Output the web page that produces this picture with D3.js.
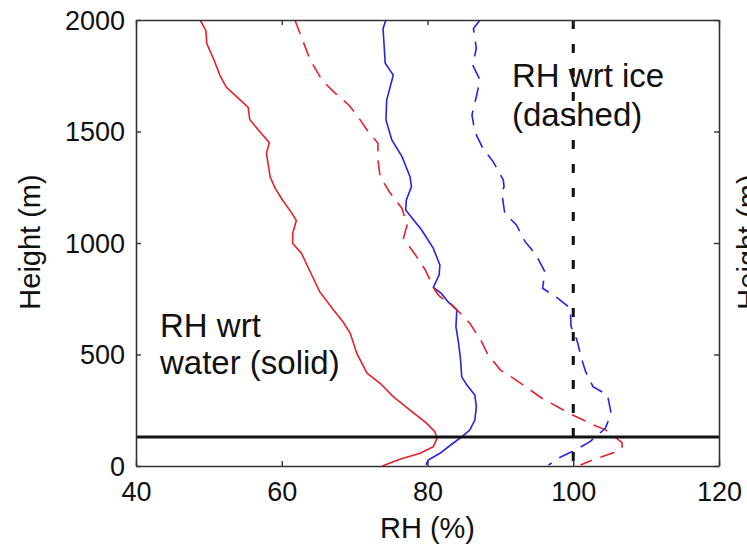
<!DOCTYPE html>
<html><head><meta charset="utf-8">
<script src="https://cdn.jsdelivr.net/npm/d3@7/dist/d3.min.js"></script>
<style>
html,body{margin:0;padding:0;background:#fff;}
svg{display:block;font-family:"Liberation Sans",Arial,sans-serif;}
</style></head>
<body>
<svg id="chart" width="747" height="547"></svg>
<script>
// ---- data ----
const xTicks = [40, 60, 80, 100, 120];
const yTicks = [0, 500, 1000, 1500, 2000];

// Profile 1 (red), RH with respect to water (solid)
const redWaterH  = [2000,1952,1895,1813,1753,1698,1656,1608,1554,1507,1450,1402,1297,1245,1193,1133,1100,1043,998,954,871,782,700,647,595,505,416,371,311,251,191,154,124,87,57,30,0];
const redWaterRH = [48.8,49.6,49.7,50.8,51.5,52.4,53.8,55.4,55.6,56.8,58.3,57.9,58.4,59.1,60.1,61.4,62.0,61.5,61.5,62.7,63.9,65.2,67.1,68.4,69.4,70.3,71.7,73.5,75.3,77.6,79.9,81.0,81.3,80.8,79.0,76.2,73.8];

// Profile 2 (blue), RH with respect to water (solid)
const blueWaterH  = [2000,1962,1806,1753,1641,1552,1462,1387,1297,1253,1193,1148,1058,976,901,857,801,774,737,700,685,625,565,490,400,363,318,266,206,161,131,102,57,27,5];
const blueWaterRH = [74.3,73.9,74.2,75.3,74.4,74.3,75.1,76.5,77.6,77.8,77.1,77.0,79.2,80.8,81.7,81.6,80.8,81.9,82.8,84.0,84.0,83.9,84.2,84.5,84.7,85.4,86.5,86.7,86.5,85.8,84.7,83.5,81.7,80.1,79.8];

// Profile 1 (red), RH with respect to ice (dashed)
const redIceH  = [2000,1821,1731,1679,1619,1574,1507,1447,1372,1297,1223,1155,1081,1021,939,879,789,759,730,685,640,565,505,430,393,348,304,259,229,187,161,105,80,60,30,4];
const redIceRH = [61.8,63.9,65.5,67.1,69.2,70.3,71.7,73.2,73.2,73.5,74.9,76.5,77.2,76.7,78.5,79.7,81.0,81.7,83.1,84.5,85.8,87.3,88.2,90.0,91.8,93.8,95.7,98.2,99.9,102.6,104.5,106.7,106.7,105.6,102.9,101.0];

// Profile 2 (blue), RH with respect to ice (dashed)
const blueIceH  = [2000,1962,1873,1798,1731,1656,1574,1499,1424,1365,1283,1253,1223,1133,1081,1006,946,871,797,752,707,625,565,475,423,356,318,236,169,109,72,34,4];
const blueIceRH = [87.2,86.3,86.7,86.2,87.2,86.7,86.1,86.5,87.6,89.0,90.4,90.5,90.2,90.6,92.2,93.4,94.9,96.1,95.8,97.9,99.6,99.7,100.5,101.2,101.7,102.7,104.7,105.2,104.4,102.3,100.3,97.9,96.6];

const boundaryHeight = 130;   // horizontal line (m)
const saturationRH = 100;     // vertical dashed line (%)

const xLabel = "RH (%)";
const yLabel = "Height (m)";

// ---- layout ----
const svg = d3.select("#chart");
const L = 136, R = 719, T = 20, B = 466;
const x = d3.scaleLinear().domain([40, 120]).range([L, R]);
const y = d3.scaleLinear().domain([0, 2000]).range([B, T]);

const red = "#e8202c", blue = "#2424e6";
const line = d3.line().x(d => x(d[1])).y(d => y(d[0]));
const zip = (h, v) => h.map((hh, i) => [hh, v[i]]);

const clip = svg.append("defs").append("clipPath").attr("id", "pc")
  .append("rect").attr("x", L).attr("y", T).attr("width", R - L).attr("height", B - T);

const plot = svg.append("g").attr("clip-path", "url(#pc)");

const series = [
  {h: redWaterH, v: redWaterRH, c: red, dash: null},
  {h: blueWaterH, v: blueWaterRH, c: blue, dash: null},
  {h: redIceH, v: redIceRH, c: red, dash: "15,9"},
  {h: blueIceH, v: blueIceRH, c: blue, dash: "15,9"}
];
series.forEach(s => {
  plot.append("path").datum(zip(s.h, s.v))
    .attr("d", line).attr("fill", "none")
    .attr("stroke", s.c).attr("stroke-width", 1.6)
    .attr("stroke-dasharray", s.dash);
});

// reference lines
plot.append("line").attr("x1", x(saturationRH)).attr("x2", x(saturationRH))
  .attr("y1", T).attr("y2", B).attr("stroke", "#111").attr("stroke-width", 3)
  .attr("stroke-dasharray", "9,15");
plot.append("line").attr("x1", L).attr("x2", R)
  .attr("y1", y(boundaryHeight)).attr("y2", y(boundaryHeight))
  .attr("stroke", "#111").attr("stroke-width", 3);

// axes (MATLAB box style, inward ticks)
const fs = 27;
const axB = svg.append("g").attr("transform", `translate(0,${B})`)
  .call(d3.axisBottom(x).tickValues(xTicks).tickSizeInner(-5).tickSizeOuter(0).tickPadding(0).tickFormat(d3.format("d")));
const axT = svg.append("g").attr("transform", `translate(0,${T})`)
  .call(d3.axisTop(x).tickValues(xTicks).tickSizeInner(-5).tickSizeOuter(0).tickFormat(""));
const axL = svg.append("g").attr("transform", `translate(${L},0)`)
  .call(d3.axisLeft(y).tickValues(yTicks).tickSizeInner(-5).tickSizeOuter(0).tickPadding(0).tickFormat(d3.format("d")));
const axR = svg.append("g").attr("transform", `translate(${R},0)`)
  .call(d3.axisRight(y).tickValues(yTicks).tickSizeInner(-5).tickSizeOuter(0).tickFormat(""));

[axB, axT, axL, axR].forEach(a => {
  a.selectAll(".domain").attr("stroke", "#333").attr("stroke-width", 1.6);
  a.selectAll(".tick line").attr("stroke", "#333").attr("stroke-width", 1.4);
  a.selectAll("text").attr("font-family", "Liberation Sans, Arial, sans-serif")
    .attr("font-size", fs).attr("fill", "#111");
});
axB.selectAll("text").attr("y", 35).attr("dy", null);
axL.selectAll("text").attr("x", -11).attr("dy", "0.35em");

// axis titles
svg.append("text").attr("x", (L + R) / 2).attr("y", 538).attr("text-anchor", "middle")
  .attr("font-size", 29).attr("fill", "#111").text(xLabel);
svg.append("text").attr("transform", `translate(40,242) rotate(-90)`).attr("text-anchor", "middle")
  .attr("font-size", 29).attr("fill", "#111").text(yLabel);
// neighbouring panel's label, clipped at the right edge
svg.append("text").attr("transform", `translate(758,242) rotate(-90)`).attr("text-anchor", "middle")
  .attr("font-size", 29).attr("fill", "#111").text(yLabel);

// annotations
const ann = svg.append("g").attr("font-size", 33).attr("fill", "#111");
ann.append("text").attr("x", 512).attr("y", 87).text("RH wrt ice");
ann.append("text").attr("x", 512).attr("y", 126).text("(dashed)");
ann.append("text").attr("x", 160).attr("y", 337).text("RH wrt");
ann.append("text").attr("x", 160).attr("y", 374).text("water (solid)");
</script>
</body></html>
